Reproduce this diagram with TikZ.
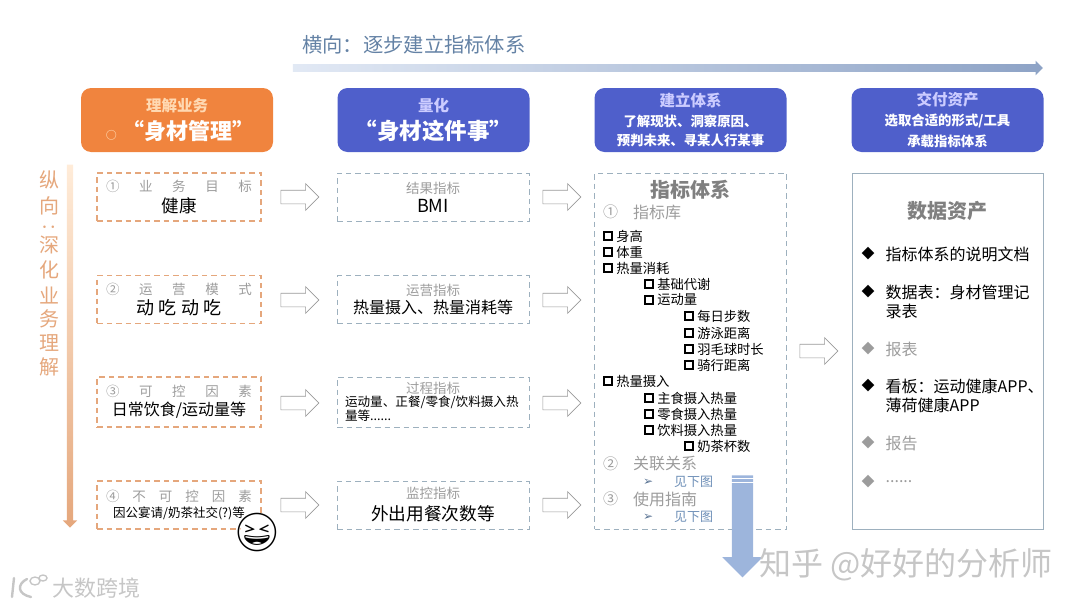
\documentclass[tikz,border=0pt]{standalone}
\usepackage{fontspec}
\usepackage{xcolor}
\usetikzlibrary{positioning,shapes.arrows}
\setmainfont{Noto Sans CJK SC}
\newfontfamily\emojifont{Noto Emoji}
\newfontfamily\dejavufont{DejaVu Sans}
\newcommand{\fsz}[2]{\fontsize{#1}{#2}\selectfont}
\definecolor{hdrorange}{HTML}{F0843E}
\definecolor{hdrblue}{HTML}{4F5FCB}
\definecolor{softorange}{HTML}{E5A77C}
\definecolor{softblue}{HTML}{9DB0BE}
\definecolor{softgray}{HTML}{9C9C9C}
\definecolor{midgray}{HTML}{808080}
\definecolor{linkblue}{HTML}{6F90B8}
\definecolor{markgray}{HTML}{C6C6C6}
\definecolor{arrowblue}{HTML}{9DB5DC}
\tikzset{
  hdrbox/.style={rounded corners=10pt,minimum width=192pt,minimum height=64pt,inner sep=0pt,align=center,text=white},
  bizbox/.style={draw=softorange,line width=1.1pt,dash pattern=on 5.5pt off 4pt,minimum width=164pt,inner sep=0pt,align=center},
  idxbox/.style={draw=softblue,line width=1pt,dash pattern=on 5.5pt off 4pt,minimum width=192pt,inner sep=0pt,align=center},
  hollow/.style={single arrow,draw=gray!80,fill=white,line width=.6pt,minimum height=38pt,single arrow head extend=6.5pt,inner sep=6.5pt},
  chkbox/.style={draw=black,line width=1.1pt,minimum size=8pt,inner sep=0pt},
  itemtext/.style={right=2.5pt of #1,inner sep=1pt},
  sect/.style={anchor=west,inner sep=0pt,text=softgray},
  asset/.style={anchor=west,inner sep=0pt,align=left},
}
\begin{document}
\begin{tikzpicture}[x=1pt,y=-1pt]
\useasboundingbox (0,0) rectangle (1080,608);
% top and side titles
\node[anchor=west,inner sep=0pt,text=linkblue!90!black] (hTitle) at (302,45) {\fsz{20.3}{24}横向：逐步建立指标体系};
\node[single arrow,left color=arrowblue!30!white,right color=arrowblue!90!black,minimum height=750pt,single arrow head extend=3.5pt,inner sep=3.7pt] (hArrow) at (666,68) {};
\foreach \yy/\label in {180/纵,206/向,245/深,270/化,295/业,319/务,343/理,367/解} {
\node[text=softorange,inner sep=0pt] (v\yy) at (49,\yy) {\fsz{20}{22}\label};
}
\node[text=softorange,inner sep=0pt,rotate=90] (vColon) at (49,223) {\fsz{17}{18}：};
\node[single arrow,shape border rotate=270,top color=orange!15!white,bottom color=softorange,minimum height=363pt,single arrow head extend=4pt,inner sep=3pt] (vArrow) at (70,344.5) {};
% header row
\node[hdrbox,fill=hdrorange] (hdrA) at (177,120) {{\fsz{15.5}{20}\bfseries\color{orange!30!white}理解业务}\\[6pt]{\hspace*{6pt}\fsz{22}{26}\bfseries{\color{orange!30!white}\fsz{11}{26}○}\ “身材管理”}};
\node[hdrbox,fill=hdrblue] (hdrB) at (433.5,120) {{\fsz{15.5}{20}\bfseries\color{blue!20!white}量化}\\[6pt]{\fsz{22.5}{26}\bfseries “身材这件事”}};
\node[hdrbox,fill=hdrblue] (hdrC) at (690.5,120) {{\fsz{15.5}{18}\bfseries\color{blue!20!white}建立体系}\\[6pt]{\fsz{13.4}{20}\bfseries 了解现状、洞察原因、}\\[6pt]{\fsz{13.4}{20}\bfseries 预判未来、寻某人行某事}};
\node[hdrbox,fill=hdrblue] (hdrD) at (947.5,120) {{\fsz{15.5}{18}\bfseries\color{blue!20!white}交付资产}\\[6pt]{\fsz{13.4}{20}\bfseries 选取合适的形式/工具}\\[6pt]{\fsz{13.4}{20}\bfseries 承载指标体系}};
% business boxes
\node[bizbox,minimum height=48pt] (bizA) at (179,197) {\makebox[146pt]{\fsz{13.5}{16}\color{softgray}①\hfill 业\hfill 务\hfill 目\hfill 标}\\[4pt]{\fsz{17.5}{21}健康}};
\node[bizbox,minimum height=48pt] (bizB) at (179,299.5) {\makebox[146pt]{\fsz{13.5}{16}\color{softgray}②\hfill 运\hfill 营\hfill 模\hfill 式}\\[3pt]{\fsz{18}{21}动 吃 动 吃}};
\node[bizbox,minimum height=50pt] (bizC) at (179,402) {\makebox[146pt]{\fsz{13.5}{16}\color{softgray}③\hfill 可\hfill 控\hfill 因\hfill 素}\\[3pt]{\fsz{16}{21}日常饮食/运动量等}};
\node[bizbox,minimum height=48pt] (bizD) at (179,505) {\makebox[146pt]{\fsz{13.5}{17}\color{softgray}④\hfill 不\hfill 可\hfill 控\hfill 因\hfill 素}\\[4pt]{\fsz{12.5}{17}因公宴请/奶茶社交(?)等}};
\fill[white] (257,533) circle (17pt);
\node[inner sep=0pt] (laugh) at (257,533) {\fsz{38}{38}\emojifont 😆};
% index boxes
\node[idxbox,minimum height=48pt] (idxA) at (433,197) {{\fsz{13.5}{16}\color{softgray}结果指标}\\[4pt]{\fsz{18}{21}BMI}};
\node[idxbox,minimum height=48pt] (idxB) at (433,299.5) {{\fsz{13.5}{16}\color{softgray}运营指标}\\[3pt]{\fsz{16}{21}热量摄入、热量消耗等}};
\node[idxbox,minimum height=50pt,text width=176pt,align=left] (idxC) at (433,402) {\makebox[176pt]{\fsz{13.5}{16}\color{softgray}过程指标}\\[1pt]{\fsz{12.6}{15}运动量、正餐/零食/饮料摄入热}\\[0pt]{\fsz{12.6}{15}量等......}};
\node[idxbox,minimum height=48pt] (idxD) at (433,505) {{\fsz{13.5}{17}\color{softgray}监控指标}\\[5pt]{\fsz{17.7}{23}外出用餐次数等}};
% block arrows
\foreach \yy/\n in {197/A,300/B,403/C,505/D} {
\node[hollow] (arL\n) at (296.5,\yy) {};
\node[hollow] (arR\n) at (558.5,\yy) {};
}
\node[hollow] (arAsset) at (815.5,351) {};
% system box
\node[idxbox,minimum height=356pt] (sysBox) at (690.5,351) {};
\node[text=midgray,inner sep=0pt] (sysTitle) at (690,190) {\fsz{20}{22}\bfseries 指标体系};
\node[sect] (secA) at (603,212) {\fsz{15}{18}①};
\node[sect] (secAt) at (633,212) {\fsz{16}{18}指标库};
\foreach \xx/\yy/\label in {608/236/身高,608/252/体重,608/268/热量消耗,649/284/基础代谢,649/300/运动量,689/316/每日步数,689/333/游泳距离,689/349/羽毛球时长,689/365/骑行距离,608/381/热量摄入,649/398/主食摄入热量,649/414/零食摄入热量,649/430/饮料摄入热量,689/446/奶茶杯数} {
\node[chkbox] (box\yy) at (\xx,\yy) {};
\node[itemtext=box\yy] (item\yy) {\fsz{13.3}{15}\label};
}
\node[sect] (secB) at (603,464) {\fsz{15}{18}②};
\node[sect] (secBt) at (633,464) {\fsz{16}{18}关联关系};
\node[sect,text=linkblue!80!black] (linkAm) at (643,482) {\fsz{12}{12}\dejavufont ➢};
\node[sect,text=linkblue] (linkA) at (674,482) {\fsz{13}{16}见下图};
\node[sect] (secC) at (603,499) {\fsz{15}{18}③};
\node[sect] (secCt) at (633,499) {\fsz{16}{18}使用指南};
\node[sect,text=linkblue!80!black] (linkBm) at (643,517) {\fsz{12}{12}\dejavufont ➢};
\node[sect,text=linkblue] (linkB) at (674,517) {\fsz{13}{16}见下图};
\node[single arrow,shape border rotate=270,fill=arrowblue,minimum height=102pt,single arrow head extend=9.5pt,inner sep=10.5pt] (dnArrow) at (742.5,521) {};
\foreach \yy in {478,482} {
\draw[white,line width=.8pt] (731,\yy) -- (754,\yy);
}
% asset box
\node[draw=softblue,line width=1pt,minimum width=191pt,minimum height=356pt,inner sep=0pt] (assetBox) at (947.5,351) {};
\node[text=midgray,inner sep=0pt] (assetTitle) at (947,211) {\fsz{20}{22}\bfseries 数据资产};
\foreach \yy/\tone/\label in {254/black/指标体系的说明文档,292/black/数据表：身材管理记,349/softgray/报表,386/black/看板：运动健康APP、,443/softgray/报告} {
\node[text=\tone,inner sep=0pt] (dot\yy) at (868,\yy) {\fsz{13}{16}◆};
\node[asset,text=\tone] (asset\yy) at (885.5,\yy) {\fsz{16}{19}\label};
}
\node[text=softgray,inner sep=0pt] (dot482) at (868,482) {\fsz{13}{16}◆};
\node[asset,text=softgray] (asset482) at (885.5,482) {\fsz{16}{19}......};
\node[asset] (assetWrapA) at (885.5,311) {\fsz{16}{19}录表};
\node[asset] (assetWrapB) at (885.5,405) {\fsz{16}{19}薄荷健康APP};
% watermarks
\node[anchor=west,inner sep=0pt,text=markgray] (markZh) at (759,565) {\fsz{32}{34}知乎 @好好的分析师};
\node[anchor=west,inner sep=0pt,text=markgray] (markDs) at (52,588) {\fsz{22}{24}大数跨境};
\draw[markgray,line width=2.4pt,line cap=round] (14,578) -- (12,597);
\draw[markgray,line width=2.4pt,line cap=round] (27,579) .. controls (17,584) and (17,594) .. (31,597);
\draw[markgray,line width=1.4pt] (35,581) circle (5pt and 4pt);
\draw[markgray,line width=1.4pt] (43,578) circle (4pt and 3pt);
\end{tikzpicture}
\end{document}
